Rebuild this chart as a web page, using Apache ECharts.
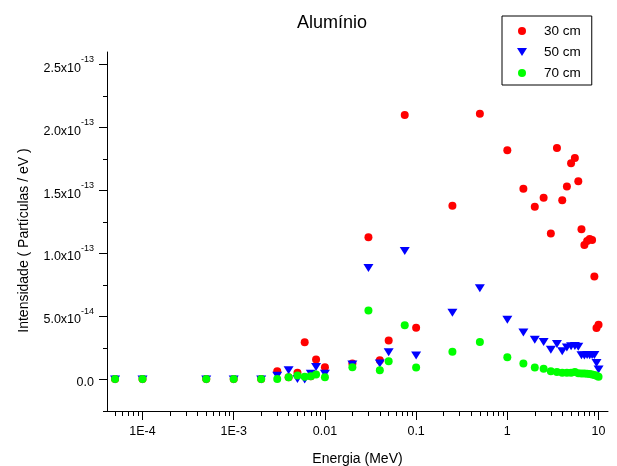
<!DOCTYPE html>
<html>
<head>
<meta charset="utf-8">
<script src="https://cdn.jsdelivr.net/npm/echarts@6/dist/echarts.min.js"></script>
<style>html,body{margin:0;padding:0;background:#fff;}#c{width:617px;height:466px;}</style>
</head>
<body>
<div id="c"></div>
<script>
// ---- data ----
const energy = [5e-5, 1e-4, 5e-4, 1e-3, 2e-3, 3e-3, 4e-3, 5e-3, 6e-3, 7e-3, 8e-3, 0.01, 0.02, 0.03, 0.04, 0.05, 0.075, 0.1, 0.25, 0.5,
  1, 1.5, 2, 2.5, 3, 3.5, 4, 4.5, 5, 5.5, 6, 6.5, 7, 7.5, 8, 8.5, 9, 9.5, 10];
const red30 = [0.5e-15, 0.5e-15, 0.5e-15, 0.5e-15, 0.5e-15, 6.6e-15, 1.8e-15, 5.3e-15, 2.95e-14, 2.6e-15, 1.58e-14, 9.7e-15, 1.27e-14, 1.13e-13, 1.53e-14, 3.09e-14, 2.1e-13, 4.1e-14, 1.38e-13, 2.11e-13,
  1.82e-13, 1.514e-13, 1.371e-13, 1.442e-13, 1.16e-13, 1.838e-13, 1.424e-13, 1.532e-13, 1.717e-13, 1.759e-13, 1.574e-13, 1.192e-13, 1.068e-13, 1.10e-13, 1.115e-13, 1.108e-13, 0.817e-13, 0.409e-13, 0.435e-13];
const blue50 = [0, 0, 0, 0, 0, 3e-15, 7.4e-15, 0.5e-15, 0, 4.5e-15, 1.0e-14, 4.5e-15, 1.2e-14, 8.86e-14, 1.27e-14, 2.16e-14, 1.02e-13, 1.9e-14, 5.3e-14, 7.25e-14,
  4.75e-14, 3.74e-14, 3.16e-14, 2.98e-14, 2.37e-14, 2.82e-14, 2.24e-14, 2.55e-14, 2.65e-14, 2.67e-14, 2.6e-14, 1.92e-14, 1.9e-14, 1.95e-14, 1.92e-14, 1.95e-14, 1.95e-14, 1.32e-14, 0.79e-14];
const green70 = [0.5e-15, 0.5e-15, 0.5e-15, 0.5e-15, 0.5e-15, 0.5e-15, 1.8e-15, 3.2e-15, 2.1e-15, 2.6e-15, 4e-15, 1.8e-15, 9.7e-15, 5.48e-14, 7.4e-15, 1.45e-14, 4.3e-14, 9.5e-15, 2.2e-14, 2.98e-14,
  1.77e-14, 1.27e-14, 9.5e-15, 8.5e-15, 6.6e-15, 6.0e-15, 5.3e-15, 5.3e-15, 5.3e-15, 6.0e-15, 5.0e-15, 4.7e-15, 4.7e-15, 4.5e-15, 4.3e-15, 4.0e-15, 3.5e-15, 3.0e-15, 2.1e-15];
const seriesNames = ['30 cm', '50 cm', '70 cm'];
const xMajorTicks = [1e-4, 1e-3, 0.01, 0.1, 1, 10];
const xMinorTicks = [5e-5, 6e-5, 7e-5, 8e-5, 9e-5,
  2e-4, 3e-4, 4e-4, 5e-4, 6e-4, 7e-4, 8e-4, 9e-4,
  2e-3, 3e-3, 4e-3, 5e-3, 6e-3, 7e-3, 8e-3, 9e-3,
  0.02, 0.03, 0.04, 0.05, 0.06, 0.07, 0.08, 0.09,
  0.2, 0.3, 0.4, 0.5, 0.6, 0.7, 0.8, 0.9,
  2, 3, 4, 5, 6, 7, 8, 9];
const yMajorTicks = [0, 5e-14, 1e-13, 1.5e-13, 2e-13, 2.5e-13];
const yMinorTicks = [-2.5e-14, 2.5e-14, 7.5e-14, 1.25e-13, 1.75e-13, 2.25e-13];

const pair = (ys) => energy.map((e, i) => [e, ys[i]]);
const FONT = '"Liberation Sans", Arial, sans-serif';

function xLabel(v) {
  if (v < 0.005) return '1E' + Math.round(Math.log10(v));
  return String(+v.toPrecision(6));
}
function yLabel(v) {
  if (Math.abs(v) < 1e-20) return '{m|0.0}';
  const e = Math.floor(Math.log10(v) + 1e-9);
  const m = v / Math.pow(10, e);
  return '{m|' + m.toFixed(1) + 'x10}{s|' + e + '}';
}

const X_MIN = 4.08e-5, X_MAX = 12.7, Y_MIN = -2.5e-14, Y_MAX = 2.6e-13;
const DOWN_TRI = 'path://M0,0 L10,0 L5,8 Z';

const chart = echarts.init(document.getElementById('c'), null, {renderer: 'canvas'});
chart.setOption({
  animation: false,
  backgroundColor: '#fff',
  textStyle: {fontFamily: FONT},
  title: {
    text: 'Alumínio', left: 292, top: 9,
    textStyle: {fontSize: 18, fontWeight: 'normal', color: '#000', fontFamily: FONT}
  },
  legend: {
    orient: 'vertical', left: 502, top: 16,
    borderColor: '#000', borderWidth: 1, borderRadius: 0,
    padding: [8, 11, 5, 15], itemWidth: 34, itemHeight: 8, itemGap: 7,
    textStyle: {fontSize: 13.5, color: '#000', fontFamily: FONT},
    data: [
      {name: seriesNames[0], icon: 'circle'},
      {name: seriesNames[1], icon: DOWN_TRI},
      {name: seriesNames[2], icon: 'circle'}
    ]
  },
  grid: {left: 107, right: 9, top: 52, bottom: 55, containLabel: false, outerBoundsMode: 'none'},
  xAxis: [{
    type: 'log', logBase: 10, min: X_MIN, max: X_MAX,
    name: 'Energia (MeV)', nameLocation: 'middle', nameGap: 41,
    nameTextStyle: {fontSize: 14, color: '#000', fontFamily: FONT},
    axisLine: {onZero: false, lineStyle: {color: '#000', width: 1}},
    axisTick: {length: 9, lineStyle: {color: '#000'}, customValues: xMajorTicks},
    axisLabel: {customValues: xMajorTicks, formatter: xLabel, margin: 14, fontSize: 12.5, color: '#000', fontFamily: FONT},
    splitLine: {show: false}, minorTick: {show: false}
  }, {
    type: 'log', logBase: 10, min: X_MIN, max: X_MAX, position: 'bottom',
    axisLine: {show: false, onZero: false},
    axisTick: {length: 5, lineStyle: {color: '#000'}, customValues: xMinorTicks},
    axisLabel: {show: false}, splitLine: {show: false}
  }],
  yAxis: [{
    type: 'value', min: Y_MIN, max: Y_MAX, position: 'left',
    name: 'Intensidade ( Partículas / eV )', nameLocation: 'middle', nameGap: 76,
    nameTextStyle: {fontSize: 14, color: '#000', fontFamily: FONT, padding: [0, 18, 0, 0]},
    axisLine: {show: true, onZero: false, lineStyle: {color: '#000', width: 1}},
    axisTick: {show: true, length: 8, lineStyle: {color: '#000'}, customValues: yMajorTicks},
    axisLabel: {
      customValues: yMajorTicks, formatter: yLabel, margin: 13, color: '#000',
      rich: {
        m: {fontSize: 12.5, lineHeight: 20, verticalAlign: 'bottom', color: '#000', fontFamily: FONT},
        s: {fontSize: 9, lineHeight: 20, verticalAlign: 'top', color: '#000', fontFamily: FONT}
      }
    },
    splitLine: {show: false}
  }, {
    type: 'value', min: Y_MIN, max: Y_MAX, position: 'left', offset: 0,
    axisLine: {show: false, onZero: false},
    axisTick: {show: true, length: 4, lineStyle: {color: '#000'}, customValues: yMinorTicks},
    axisLabel: {show: false}, splitLine: {show: false}
  }],
  series: [{
    name: seriesNames[0], type: 'scatter', xAxisIndex: 0, yAxisIndex: 0,
    symbol: 'circle', symbolSize: 8, itemStyle: {color: '#ff0000', opacity: 1},
    data: pair(red30)
  }, {
    name: seriesNames[1], type: 'scatter', xAxisIndex: 0, yAxisIndex: 0,
    symbol: 'triangle', symbolRotate: 180, symbolSize: [10, 8], itemStyle: {color: '#0000ff', opacity: 1},
    data: pair(blue50)
  }, {
    name: seriesNames[2], type: 'scatter', xAxisIndex: 0, yAxisIndex: 0,
    symbol: 'circle', symbolSize: 8, itemStyle: {color: '#00ff00', opacity: 1},
    data: pair(green70)
  }]
});
</script>
</body>
</html>
